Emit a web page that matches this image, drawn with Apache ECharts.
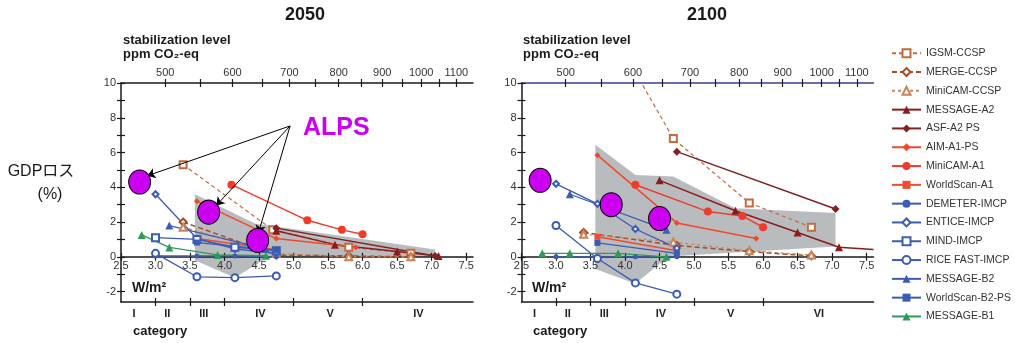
<!DOCTYPE html>
<html lang="ja">
<head>
<meta charset="UTF-8">
<title>GDP loss vs stabilization level (2050 / 2100)</title>
<script src="https://cdn.jsdelivr.net/npm/echarts@6/dist/echarts.min.js"></script>
<style>
    html, body { margin: 0; padding: 0; background: #fff; }
    #chart { width: 1015px; height: 343px; }
</style>
</head>
<body>
<div id="chart"></div>
<script>
// ---- axis ticks / labels ----
const forcingTicks = [2.5, 3.0, 3.5, 4.0, 4.5, 5.0, 5.5, 6.0, 6.5, 7.0, 7.5];
const gdpTicks = [-2, -1, 0, 1, 2, 3, 4, 5, 6, 7, 8, 9, 10];
const gdpLabels = [-2, 0, 2, 4, 6, 8, 10];
const ppmTicks = [500, 550, 600, 650, 700, 750, 800, 850, 900, 950, 1000, 1050, 1100];
const ppmLabels = [500, 600, 700, 800, 900, 1000, 1100];
const categoryBounds = [3.0, 3.5, 4.0, 5.0, 6.0];
const categoryCenters = [2.69, 3.17, 3.70, 4.52, 5.53, 6.81];
const categoryNames2050 = ['I', 'II', 'III', 'IV', 'V', 'IV'];
const categoryNames2100 = ['I', 'II', 'III', 'IV', 'V', 'VI'];

// ---- series, [W/m2, GDP loss %] ----
const igsm2050 = [[3.4, 5.3], [4.7, 1.55], [5.8, 0.55], [6.7, 0.2]];
const igsm2100 = [[3.4, 15.8], [4.7, 6.8], [5.8, 3.1], [6.7, 1.7]];
const merge2050 = [[3.4, 2.0], [4.75, 0.1], [5.8, 0.05], [6.7, 0.0]];
const merge2100 = [[3.4, 1.4], [4.75, 0.65], [5.8, 0.3], [6.7, 0.05]];
const minicamCcsp2050 = [[3.4, 1.7], [4.75, 0.2], [5.8, 0.0], [6.7, 0.0]];
const minicamCcsp2100 = [[3.4, 1.3], [4.7, 0.85], [5.8, 0.35], [6.7, 0.1]];
const messageA2_2050 = [[4.75, 1.5], [5.6, 0.7], [6.5, 0.3], [7.1, 0.05]];
const messageA2_2100 = [[4.5, 4.4], [5.6, 2.65], [6.5, 1.4], [7.1, 0.55], {value: [7.6, 0.42], symbol: 'none'}];
const asf2050 = [[4.75, 1.65], [7.05, 0.05]];
const asf2100 = [[4.75, 6.05], [7.05, 2.75]];
const aim2050 = [[3.6, 3.2], [4.75, 1.05], [5.9, 0.55]];
const aim2100 = [[3.6, 5.85], [4.75, 1.95], [5.9, 1.05]];
const minicamA1_2050 = [[4.1, 4.15], [5.2, 2.1], [5.7, 1.55], [6.0, 1.3]];
const minicamA1_2100 = [[4.15, 4.15], [5.2, 2.6], [5.7, 2.35], [6.0, 1.7]];
const worldscanA1_2050 = [[3.6, 1.05], [4.75, 0.4]];
const worldscanA1_2100 = [[3.6, 1.15], [4.75, 0.35]];
const demeter2050 = [[3.0, 0.05], [3.6, 0.05], [4.15, 0.05], [4.75, 0.0]];
const demeter2100 = [[3.0, 0.0], [4.15, 0.0], [4.75, 0.0]];
const entice2050 = [[3.0, 3.6], [3.6, 1.05], [4.15, 0.45], [4.75, 0.2]];
const entice2100 = [[3.0, 4.2], [3.6, 3.05], [4.15, 1.6], [4.75, 0.5]];
const mind2050 = [[3.0, 1.1], [3.6, 1.0], [4.15, 0.55], [4.75, 0.35]];
const mind2100 = [];
const rice2050 = [[3.0, 0.2], [3.6, -1.15], [4.15, -1.2], [4.75, -1.1]];
const rice2100 = [[3.0, 1.8], [3.6, -0.1], [4.15, -1.5], [4.75, -2.15]];
const messageB2_2050 = [[3.2, 1.8], [4.6, 0.45]];
const messageB2_2100 = [[3.2, 3.6], [4.6, 1.55]];
const worldscanB2_2050 = [[3.6, 0.82], [4.75, 0.38]];
const worldscanB2_2100 = [[3.6, 0.8], [4.75, 0.2]];
const messageB1_2050 = [[2.8, 1.26], [3.2, 0.54], [3.9, 0.11], [4.6, 0.06]];
const messageB1_2100 = [[2.8, 0.2], [3.2, 0.2], [3.9, 0.2], [4.6, 0.0]];

// ALPS results (magenta dots)
const alps2050 = [[2.77, 4.3], [3.77, 2.57], [4.48, 0.94]];
const alps2100 = [[2.77, 4.4], [3.8, 3.0], [4.5, 2.2]];

// grey range of the scenario set
const shade2050 = [[3.57, 3.6], [4.45, 1.9], [4.75, 1.75], [7.05, 0.42], [7.05, 0.0], [4.7, 0.0], [4.6, -0.1], [4.15, -1.2], [3.57, -0.2]];
const shade2100 = [[3.57, 6.45], [4.15, 4.7], [4.7, 4.62], [5.6, 2.8], [7.05, 2.52], [7.05, 0.6], [4.75, 0.05], [4.5, -0.4], [4.15, -1.55], [3.57, -0.7]];

const seriesNames = ['IGSM-CCSP', 'MERGE-CCSP', 'MiniCAM-CCSP', 'MESSAGE-A2', 'ASF-A2 PS', 'AIM-A1-PS',
    'MiniCAM-A1', 'WorldScan-A1', 'DEMETER-IMCP', 'ENTICE-IMCP', 'MIND-IMCP', 'RICE FAST-IMCP',
    'MESSAGE-B2', 'WorldScan-B2-PS', 'MESSAGE-B1'];
const values2050 = [igsm2050, merge2050, minicamCcsp2050, messageA2_2050, asf2050, aim2050,
    minicamA1_2050, worldscanA1_2050, demeter2050, entice2050, mind2050, rice2050,
    messageB2_2050, worldscanB2_2050, messageB1_2050];
const values2100 = [igsm2100, merge2100, minicamCcsp2100, messageA2_2100, asf2100, aim2100,
    minicamA1_2100, worldscanA1_2100, demeter2100, entice2100, mind2100, rice2100,
    messageB2_2100, worldscanB2_2100, messageB1_2100];

// ---- looks ----
const FONT = '"Liberation Sans", Arial, "Noto Sans CJK JP", sans-serif';
const BLUE = '#3c5cb4';
const styleOf = {
    'IGSM-CCSP':       {color: '#c46a3e', symbol: 'emptyRect', size: 7, dash: [4, 3], width: 1.2},
    'MERGE-CCSP':      {color: '#a84a24', symbol: 'emptyDiamond', size: 7, dash: [5, 3], width: 1.5},
    'MiniCAM-CCSP':    {color: '#c98459', symbol: 'emptyTriangle', size: 7, dash: [3, 3], width: 1.2},
    'MESSAGE-A2':      {color: '#8c1c1c', symbol: 'triangle', size: 8, width: 1.5},
    'ASF-A2 PS':       {color: '#7e2222', symbol: 'diamond', size: 8, width: 1.5},
    'AIM-A1-PS':       {color: '#f2472d', symbol: 'diamond', size: 6, width: 1.5},
    'MiniCAM-A1':      {color: '#ef3b2c', symbol: 'circle', size: 8, width: 1.5},
    'WorldScan-A1':    {color: '#f04a30', symbol: 'rect', size: 6, width: 1.5},
    'DEMETER-IMCP':    {color: BLUE, symbol: 'circle', size: 5, width: 1.3},
    'ENTICE-IMCP':     {color: BLUE, symbol: 'emptyDiamond', size: 6, width: 1.3},
    'MIND-IMCP':       {color: BLUE, symbol: 'emptyRect', size: 7, width: 1.3},
    'RICE FAST-IMCP':  {color: BLUE, symbol: 'emptyCircle', size: 7, width: 1.3},
    'MESSAGE-B2':      {color: BLUE, symbol: 'triangle', size: 8, width: 1.3},
    'WorldScan-B2-PS': {color: BLUE, symbol: 'rect', size: 6, width: 1.3},
    'MESSAGE-B1':      {color: '#2e9a58', symbol: 'triangle', size: 8, width: 1.3}
};

const ppmToForcing = c => 5.35 * Math.log(c / 278);
const forcingToPpm = w => Math.round(278 * Math.exp(w / 5.35));

const GRID_TOP = 83, GRID_H = 219, Y_MIN = -2.6, Y_MAX = 10;
// distance (px) from the grid bottom up to the y = 0 line
const zeroLift = GRID_H * (0 - Y_MIN) / (Y_MAX - Y_MIN);

const axisColor = '#1a1a1a';
const labelStyle = {fontFamily: FONT, fontSize: 11, color: '#333'};

const xAxes = [];
const yAxes = [];
const axisIdx = [];

function addAxes(g, catNames, topColor) {
    const xBase = {gridIndex: g, type: 'value', min: 2.5, max: 7.6, splitLine: {show: false}};
    const tickLine = {color: axisColor, width: 1.2};
    const xIndex = xAxes.length;
    // W/m2 axis sitting on y = 0 (ticks cross the line: one axis out, one in)
    xAxes.push(Object.assign({}, xBase, {
        position: 'bottom', offset: -zeroLift, z: 3,
        axisLine: {onZero: false, lineStyle: {color: axisColor, width: 1.5}},
        axisTick: {customValues: forcingTicks, length: 4, lineStyle: tickLine},
        axisLabel: Object.assign({customValues: forcingTicks, margin: 4, formatter: v => v.toFixed(1)}, labelStyle)
    }));
    xAxes.push(Object.assign({}, xBase, {
        position: 'bottom', offset: -zeroLift, z: 3,
        axisLine: {show: false, onZero: false},
        axisTick: {inside: true, customValues: forcingTicks, length: 4, lineStyle: tickLine},
        axisLabel: {show: false}
    }));
    // stabilization level (ppm CO2-eq) on top
    const ppmPos = ppmTicks.map(ppmToForcing);
    const ppmLabPos = ppmLabels.map(ppmToForcing);
    xAxes.push(Object.assign({}, xBase, {
        position: 'top',
        axisLine: {onZero: false, lineStyle: {color: topColor, width: 1.5}},
        axisTick: {customValues: ppmPos, length: 4, lineStyle: tickLine},
        axisLabel: Object.assign({customValues: ppmLabPos, margin: 5, formatter: v => String(forcingToPpm(v))}, labelStyle)
    }));
    xAxes.push(Object.assign({}, xBase, {
        position: 'top',
        axisLine: {show: false, onZero: false},
        axisTick: {inside: true, customValues: ppmPos, length: 4, lineStyle: tickLine},
        axisLabel: {show: false}
    }));
    // category axis at the bottom
    xAxes.push(Object.assign({}, xBase, {
        position: 'bottom',
        axisLine: {onZero: false, lineStyle: {color: axisColor, width: 1.5}},
        axisTick: {customValues: categoryBounds, length: 4, lineStyle: tickLine},
        axisLabel: Object.assign({
            customValues: categoryCenters, margin: 6, fontWeight: 'bold',
            formatter: v => {
                let best = 0;
                categoryCenters.forEach((c, i) => { if (Math.abs(c - v) < Math.abs(categoryCenters[best] - v)) best = i; });
                return catNames[best];
            }
        }, labelStyle, {color: '#222'})
    }));
    xAxes.push(Object.assign({}, xBase, {
        position: 'bottom',
        axisLine: {show: false, onZero: false},
        axisTick: {inside: true, customValues: categoryBounds, length: 4, lineStyle: tickLine},
        axisLabel: {show: false}
    }));

    const yBase = {gridIndex: g, type: 'value', min: Y_MIN, max: Y_MAX, position: 'left', splitLine: {show: false}};
    const yIndex = yAxes.length;
    yAxes.push(Object.assign({}, yBase, {
        axisLine: {onZero: false, lineStyle: {color: axisColor, width: 1.5}},
        axisTick: {customValues: gdpTicks, length: 4, lineStyle: tickLine},
        axisLabel: Object.assign({customValues: gdpLabels, margin: 5}, labelStyle)
    }));
    yAxes.push(Object.assign({}, yBase, {
        axisLine: {show: false, onZero: false},
        axisTick: {inside: true, customValues: gdpTicks, length: 4, lineStyle: tickLine},
        axisLabel: {show: false}
    }));
    axisIdx[g] = {x: xIndex, y: yIndex};
}

addAxes(0, categoryNames2050, axisColor);
addAxes(1, categoryNames2100, '#3b3b92');

function lineSeries(name, points, g) {
    const s = styleOf[name];
    return {
        name: name, type: 'line',
        xAxisIndex: axisIdx[g].x, yAxisIndex: axisIdx[g].y,
        data: points,
        symbol: s.symbol, symbolSize: s.size, showSymbol: true,
        lineStyle: {color: s.color, width: s.width, type: s.dash || 'solid'},
        itemStyle: {color: s.color},
        clip: true, z: 3,
        emphasis: {disabled: true}
    };
}

function shadeSeries(poly, g) {
    return {
        type: 'custom', silent: true, z: 1,
        xAxisIndex: axisIdx[g].x, yAxisIndex: axisIdx[g].y,
        data: poly,
        renderItem: (params, api) => {
            if (params.dataIndex !== 0) return null;
            return {
                type: 'polygon',
                shape: {points: poly.map(p => api.coord(p))},
                style: {fill: '#b9bcbf'}
            };
        }
    };
}

function alpsSeries(points, g, arrows) {
    const s = {
        name: 'ALPS', type: 'scatter', z: 6,
        xAxisIndex: axisIdx[g].x, yAxisIndex: axisIdx[g].y,
        data: points,
        symbol: 'circle', symbolSize: [22, 24],
        itemStyle: {color: '#cc00f0', borderColor: '#000', borderWidth: 1, opacity: 1}
    };
    if (arrows) {
        s.markLine = {
            silent: true, symbol: ['none', 'arrow'], symbolSize: 8,
            lineStyle: {color: '#000', width: 1, type: 'solid'},
            label: {show: false},
            data: arrows
        };
    }
    return s;
}

// annotation arrows from the "ALPS" label to the three 2050 dots
const arrowStart = [4.95, 7.53];
const arrowEnds = [[2.88, 4.66], [3.88, 2.95], [4.49, 1.36]];

const series = [shadeSeries(shade2050, 0), shadeSeries(shade2100, 1)];
seriesNames.forEach((n, i) => series.push(lineSeries(n, values2050[i], 0)));
seriesNames.forEach((n, i) => series.push(lineSeries(n, values2100[i], 1)));
series.push(alpsSeries(alps2050, 0, arrowEnds.map(e => [{coord: arrowStart}, {coord: e}])));
series.push(alpsSeries(alps2100, 1, null));

function txt(x, y, text, size, opts) {
    return {
        type: 'text', x: x, y: y, silent: true, z: 10,
        style: Object.assign({
            text: text, fontFamily: FONT, fontSize: size, fill: '#1a1a1a',
            align: 'left', verticalAlign: 'middle'
        }, opts || {})
    };
}

const graphics = [
    txt(305, 15, '2050', 18, {fontWeight: 'bold', align: 'center'}),
    txt(707, 15, '2100', 18, {fontWeight: 'bold', align: 'center'}),
    txt(123, 40, 'stabilization level', 13, {fontWeight: 'bold'}),
    txt(123, 54, 'ppm CO₂-eq', 13, {fontWeight: 'bold'}),
    txt(523, 40, 'stabilization level', 13, {fontWeight: 'bold'}),
    txt(523, 54, 'ppm CO₂-eq', 13, {fontWeight: 'bold'}),
    txt(132, 288, 'W/m²', 14, {fontWeight: 'bold'}),
    txt(532, 288, 'W/m²', 14, {fontWeight: 'bold'}),
    txt(133, 331, 'category', 13, {fontWeight: 'bold'}),
    txt(533, 331, 'category', 13, {fontWeight: 'bold'}),
    txt(41, 172, 'GDPロス', 16, {align: 'center'}),
    txt(50, 195, '(%)', 16, {align: 'center'}),
    txt(303, 128, 'ALPS', 25, {fontWeight: 'bold', fill: '#cc00f0'})
];

const chart = echarts.init(document.getElementById('chart'));
chart.setOption({
    animation: false,
    backgroundColor: '#fff',
    textStyle: {fontFamily: FONT},
    grid: [
        {left: 121, top: GRID_TOP, width: 352, height: GRID_H, outerBoundsMode: 'none'},
        {left: 521.5, top: GRID_TOP, width: 352, height: GRID_H, outerBoundsMode: 'none'}
    ],
    legend: {
        data: seriesNames,
        orient: 'vertical',
        left: 891, top: 48, padding: 0,
        itemWidth: 29, itemHeight: 10, itemGap: 8.3,
        selectedMode: false,
        textStyle: {fontFamily: FONT, fontSize: 10.5, color: '#333', lineHeight: 10}
    },
    xAxis: xAxes,
    yAxis: yAxes,
    series: series,
    graphic: graphics
});
</script>
</body>
</html>
